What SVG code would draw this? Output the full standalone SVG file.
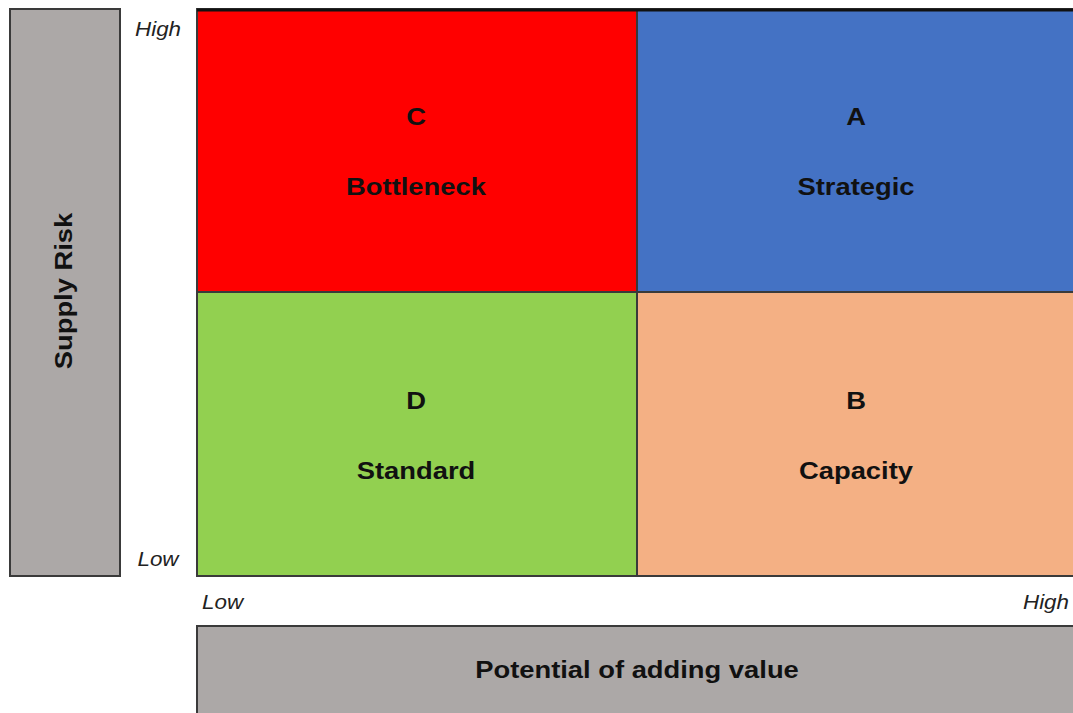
<svg xmlns="http://www.w3.org/2000/svg" width="1073" height="713" viewBox="0 0 1073 713">
<style>
.box{stroke:#3a3a3a;stroke-width:2}
.lab{font-family:"Liberation Sans",Arial,sans-serif;font-weight:bold;font-size:24px;fill:#111;text-anchor:middle}
.ax{font-family:"Liberation Sans",Arial,sans-serif;font-style:italic;font-size:20px;fill:#222}
</style>
<rect width="1073" height="713" fill="#ffffff"/>
<g id="supply-risk">
<rect class="box" x="10" y="9" width="110" height="567" fill="#aca8a7"/>
<text class="lab" transform="translate(72,291) rotate(-90) scale(1.14,1)">Supply Risk</text>
</g>
<g id="potential">
<rect class="box" x="197" y="626" width="880" height="95" fill="#aca8a7"/>
<text class="lab" transform="translate(637,678) scale(1.14,1)">Potential of adding value</text>
</g>
<g id="bottleneck">
<rect class="box" x="197" y="9" width="440" height="283" fill="#ff0000"/>
<text class="lab" transform="translate(416,125) scale(1.14,1)">C</text>
<text class="lab" transform="translate(416,195) scale(1.14,1)">Bottleneck</text>
</g>
<g id="strategic">
<rect class="box" x="637" y="9" width="440" height="283" fill="#4472c4"/>
<text class="lab" transform="translate(856,125) scale(1.14,1)">A</text>
<text class="lab" transform="translate(856,195) scale(1.14,1)">Strategic</text>
</g>
<g id="standard">
<rect class="box" x="197" y="292" width="440" height="284" fill="#92d050"/>
<text class="lab" transform="translate(416,409) scale(1.14,1)">D</text>
<text class="lab" transform="translate(416,479) scale(1.14,1)">Standard</text>
</g>
<g id="capacity">
<rect class="box" x="637" y="292" width="440" height="284" fill="#f4b084"/>
<text class="lab" transform="translate(856,409) scale(1.14,1)">B</text>
<text class="lab" transform="translate(856,479) scale(1.14,1)">Capacity</text>
</g>
<line x1="197" y1="10" x2="1073" y2="10" stroke="#111" stroke-width="3"/>
<g id="axis-labels">
<text class="ax" transform="translate(158,36) scale(1.12,1)" text-anchor="middle">High</text>
<text class="ax" transform="translate(158,566) scale(1.12,1)" text-anchor="middle">Low</text>
<text class="ax" transform="translate(202,609) scale(1.12,1)">Low</text>
<text class="ax" transform="translate(1069,609) scale(1.12,1)" text-anchor="end">High</text>
</g>
<g id="connectors"></g>
</svg>
